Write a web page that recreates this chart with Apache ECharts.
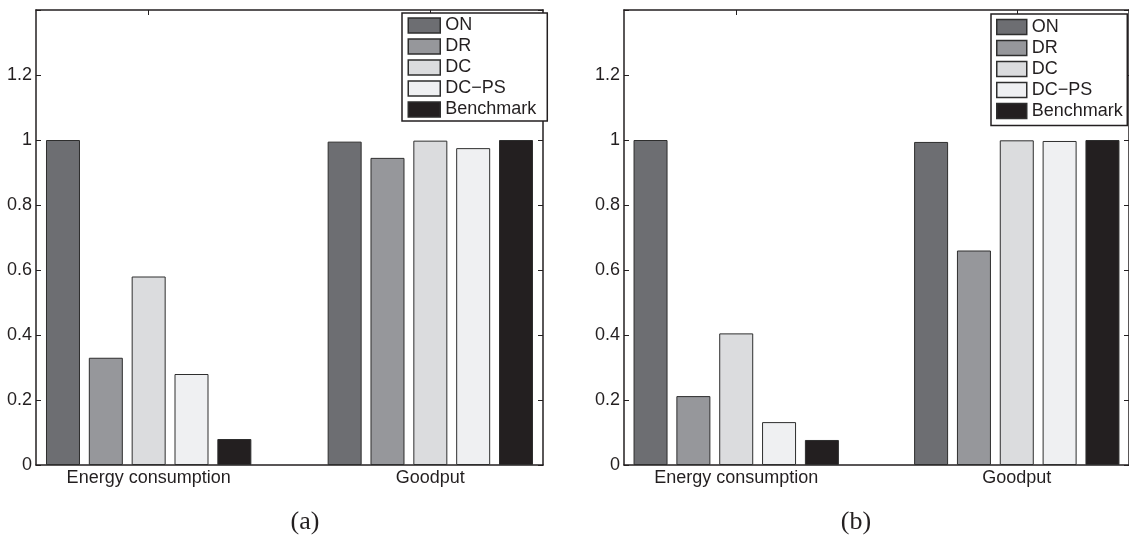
<!DOCTYPE html>
<html>
<head>
<meta charset="utf-8">
<script src="https://cdn.jsdelivr.net/npm/echarts@6/dist/echarts.min.js"></script>
<style>
  html, body { margin: 0; padding: 0; background: #fff; }
  #chart { width: 1129px; height: 537px; }
</style>
</head>
<body>
<div id="chart"></div>
<script>
// ---- data ----
const categories = ['Energy consumption', 'Goodput'];
const categoryPositions = [1, 2];
const seriesNames = ['ON', 'DR', 'DC', 'DC\u2212PS', 'Benchmark'];
const panelAEnergy  = [1.0, 0.33, 0.58, 0.28, 0.08];
const panelAGoodput = [0.995, 0.945, 0.998, 0.975, 1.0];
const panelBEnergy  = [1.0, 0.212, 0.405, 0.132, 0.077];
const panelBGoodput = [0.994, 0.66, 0.999, 0.997, 1.0];
const yTickValues = [0, 0.2, 0.4, 0.6, 0.8, 1, 1.2];
const captions = ['(a)', '(b)'];

// ---- styles ----
const colors = ['#6d6e72', '#96979b', '#dbdcde', '#eff0f2', '#231f20'];
const ink = '#231f20';
const font = 'Liberation Sans';

const chart = echarts.init(document.getElementById('chart'), null, { renderer: 'canvas' });

function bottomX(gridIndex) {
  return {
    type: 'value', gridIndex, min: 0.6, max: 2.4, position: 'bottom',
    axisLine: { show: true, onZero: false, lineStyle: { color: ink, width: 1.5 } },
    axisTick: { show: true, inside: true, length: 5, customValues: categoryPositions, lineStyle: { color: ink, width: 1 } },
    axisLabel: {
      show: true, margin: 4, customValues: categoryPositions,
      formatter: v => categories[categoryPositions.indexOf(Math.round(v))] || '',
      fontFamily: font, fontSize: 18, color: ink
    },
    splitLine: { show: false }
  };
}
function topX(gridIndex) {
  return {
    type: 'value', gridIndex, min: 0.6, max: 2.4, position: 'top',
    axisLine: { show: true, onZero: false, lineStyle: { color: ink, width: 1.5 } },
    axisTick: { show: true, inside: true, length: 5, customValues: categoryPositions, lineStyle: { color: ink, width: 1 } },
    axisLabel: { show: false },
    splitLine: { show: false }
  };
}
function leftY(gridIndex) {
  return {
    type: 'value', gridIndex, min: 0, max: 1.4, interval: 0.2, position: 'left',
    axisLine: { show: true, onZero: false, lineStyle: { color: ink, width: 1.5 } },
    axisTick: { show: true, inside: true, length: 5, lineStyle: { color: ink, width: 1 } },
    axisLabel: {
      show: true, margin: 4, fontFamily: font, fontSize: 18, color: ink,
      formatter: v => {
        const hit = yTickValues.find(t => Math.abs(t - v) < 1e-6);
        return hit === undefined ? '' : String(hit);
      }
    },
    splitLine: { show: false }
  };
}
function rightY(gridIndex) {
  return {
    type: 'value', gridIndex, min: 0, max: 1.4, interval: 0.2, position: 'right',
    axisLine: { show: true, onZero: false, lineStyle: { color: ink, width: 1.5 } },
    axisTick: { show: true, inside: true, length: 5, lineStyle: { color: ink, width: 1 } },
    axisLabel: { show: false },
    splitLine: { show: false }
  };
}

function makeSeries(energy, goodput, axisIndex) {
  return seriesNames.map((name, i) => ({
    name, type: 'bar', xAxisIndex: axisIndex, yAxisIndex: axisIndex,
    barWidth: 34, barGap: '26%',
    itemStyle: { color: colors[i], borderColor: '#2e2e2e', borderWidth: 1 },
    emphasis: { disabled: true },
    data: [[categoryPositions[0], energy[i]], [categoryPositions[1], goodput[i]]]
  }));
}

function legend(left, top, itemWidth, padding) {
  return {
    orient: 'vertical', left, top, itemWidth, itemHeight: 15, itemGap: 3,
    padding, backgroundColor: '#fff', borderColor: ink, borderWidth: 1.5, borderRadius: 0,
    icon: 'rect', selectedMode: false,
    itemStyle: { borderWidth: 1.5 },
    textStyle: { fontFamily: font, fontSize: 18, color: ink, lineHeight: 18 },
    data: seriesNames
  };
}

const option = {
  animation: false,
  backgroundColor: '#fff',
  grid: [
    { left: 36, top: 10, width: 507, height: 455 },
    { left: 624, top: 10, width: 507, height: 455 }
  ],
  xAxis: [bottomX(0), topX(0), bottomX(1), topX(1)],
  yAxis: [leftY(0), rightY(0), leftY(1), rightY(1)],
  legend: [
    legend(402, 13, 32, [3.5, 11, 2.5, 5.5]),
    legend(991, 14, 30, [4, 4.5, 5.5, 5])
  ],
  series: [
    ...makeSeries(panelAEnergy, panelAGoodput, 0),
    ...makeSeries(panelBEnergy, panelBGoodput, 2)
  ],
  graphic: [
    { type: 'text', x: 305, y: 509, style: { text: captions[0], font: '26px "Liberation Serif"', textAlign: 'center', textVerticalAlign: 'top', fill: ink } },
    { type: 'text', x: 856, y: 509, style: { text: captions[1], font: '26px "Liberation Serif"', textAlign: 'center', textVerticalAlign: 'top', fill: ink } }
  ]
};
chart.setOption(option);
</script>
</body>
</html>
